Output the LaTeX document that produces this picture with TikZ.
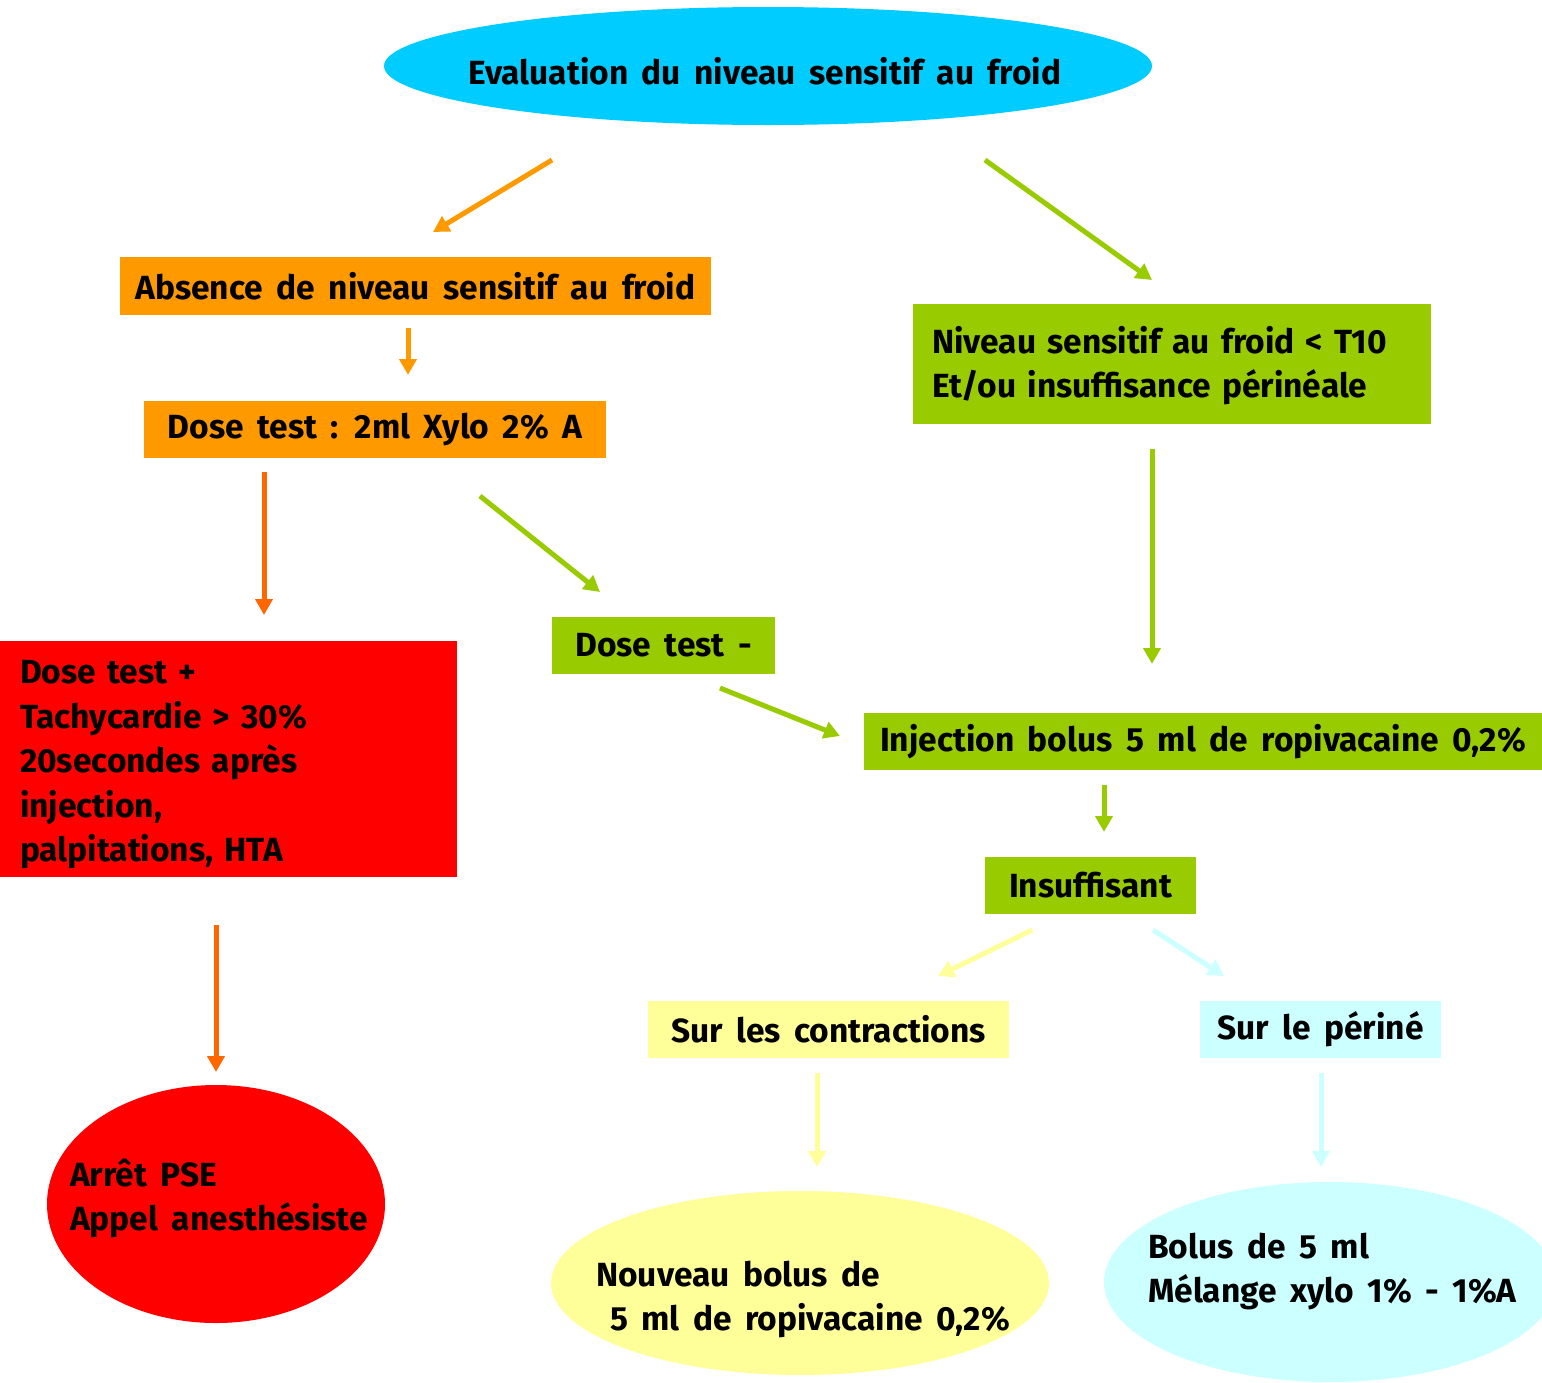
\documentclass[tikz,border=0pt]{standalone}
\usepackage{fontspec}
\setmainfont{Fira Sans}[WordSpace=1.7]
\usetikzlibrary{shapes.geometric,arrows.meta}
\definecolor{cyanT}{HTML}{00CCFF}
\definecolor{orangeA}{HTML}{FF9900}
\definecolor{orangeD}{HTML}{FF6600}
\definecolor{greenB}{HTML}{99CC00}
\definecolor{redB}{HTML}{FF0000}
\definecolor{yellowL}{HTML}{FFFF99}
\definecolor{cyanL}{HTML}{CCFFFF}
\tikzset{
  bigfont/.style={font=\bfseries\fontsize{33.5}{44.5}\selectfont},
  boxnode/.style={rectangle, bigfont, align=left, inner ysep=0pt, text=black},
  onebox/.style={rectangle, bigfont, inner sep=0pt, text=black},
  ellnode/.style={ellipse, inner sep=0pt},
  txt/.style={anchor=north west, inner sep=0pt, align=left, bigfont, text=black},
  arr/.style={line width=5pt, -{Triangle[width=17pt,length=16pt]}},
}
\begin{document}
\begin{tikzpicture}[x=1pt,y=-1pt]
\useasboundingbox (0,0) rectangle (1542,1382);
\clip (0,0) rectangle (1542,1382);
\fill[white] (0,0) rectangle (1542,1382);

% ellipses
\node[ellnode, fill=cyanT, minimum width=768, minimum height=118] (top) at (768,66) {};
\node[txt] (toptxt) at (468,84-31.15) {\strut Evaluation du niveau sensitif au froid};

\node[ellnode, fill=redB, minimum width=338, minimum height=238] (stop) at (216,1204) {};
\node[txt] (stoptxt) at (70,1186-31.15) {\strut Arrêt PSE\\Appel anesthésiste};

\node[ellnode, fill=yellowL, minimum width=498, minimum height=184] (newbolus) at (800,1283) {};
\node[txt] (newbolustxt) at (596,1286-31.15) {\strut Nouveau bolus de\\\hspace*{14pt}5 ml de ropivacaine 0,2\%};

\node[ellnode, fill=cyanL, minimum width=452, minimum height=200] (mix) at (1330,1282) {};
\node[txt] (mixtxt) at (1148,1258-31.15) {\strut Bolus de 5 ml\\Mélange xylo 1\% - 1\%A};

% boxes
\node[onebox, fill=orangeA, minimum width=591, minimum height=58] (absence) at (415.5,286) {Absence de niveau sensitif au froid};
\node[onebox, fill=orangeA, minimum width=462, minimum height=57] (dosetest) at (375,429.5) {Dose test : 2ml Xylo 2\% A};
\node[boxnode, fill=greenB, minimum width=518, minimum height=120, inner xsep=19, text width=480] (niveau) at (1172,364) {\rule{0pt}{30pt}Niveau sensitif au froid < T10\\Et/ou insuffisance périnéale};
\node[boxnode, fill=redB, minimum width=457, minimum height=236, inner xsep=20, text width=417] (positive) at (228.5,759) {\rule{0pt}{35pt}Dose test +\\Tachycardie > 30\%\\20secondes après\\injection,\\palpitations, HTA};
\node[onebox, fill=greenB, minimum width=223, minimum height=57] (negative) at (663.5,645.5) {Dose test -};
\node[onebox, fill=greenB, minimum width=678, minimum height=57] (injection) at (1203,741.5) {Injection bolus 5 ml de ropivacaine 0,2\%};
\node[onebox, fill=greenB, minimum width=211, minimum height=57] (insuff) at (1090.5,885.5) {Insuffisant};
\node[onebox, fill=yellowL, minimum width=361, minimum height=57] (contr) at (828.5,1029.5) {Sur les contractions};
\node[onebox, fill=cyanL, minimum width=241, minimum height=57] (perine) at (1320.5,1029.5) {Sur le périné};

% arrow end points
\coordinate (a1s) at (552,160); \coordinate (a1e) at (433,232);
\coordinate (a2s) at (985,160); \coordinate (a2e) at (1152,280);
\coordinate (a3s) at (408,328); \coordinate (a3e) at (408,375);
\coordinate (a4s) at (264,472); \coordinate (a4e) at (264,615);
\coordinate (a5s) at (480,496); \coordinate (a5e) at (600,592);
\coordinate (a6s) at (1152,449); \coordinate (a6e) at (1152,664);
\coordinate (a7s) at (720,688); \coordinate (a7e) at (840,736);
\coordinate (a8s) at (1104,785); \coordinate (a8e) at (1104,832);
\coordinate (a9s) at (1032,930); \coordinate (a9e) at (938,976);
\coordinate (a10s) at (1153,930); \coordinate (a10e) at (1224,976);
\coordinate (a11s) at (216,925); \coordinate (a11e) at (216,1072);
\coordinate (a12s) at (817,1073); \coordinate (a12e) at (817,1167);
\coordinate (a13s) at (1321,1073); \coordinate (a13e) at (1321,1167);

\draw[arr, orangeA] (a1s) -- (a1e);
\draw[arr, greenB] (a2s) -- (a2e);
\draw[arr, orangeA] (a3s) -- (a3e);
\draw[arr, orangeD] (a4s) -- (a4e);
\draw[arr, greenB] (a5s) -- (a5e);
\draw[arr, greenB] (a6s) -- (a6e);
\draw[arr, greenB] (a7s) -- (a7e);
\draw[arr, greenB] (a8s) -- (a8e);
\draw[arr, yellowL] (a9s) -- (a9e);
\draw[arr, cyanL] (a10s) -- (a10e);
\draw[arr, orangeD] (a11s) -- (a11e);
\draw[arr, yellowL] (a12s) -- (a12e);
\draw[arr, cyanL] (a13s) -- (a13e);
\end{tikzpicture}
\end{document}
